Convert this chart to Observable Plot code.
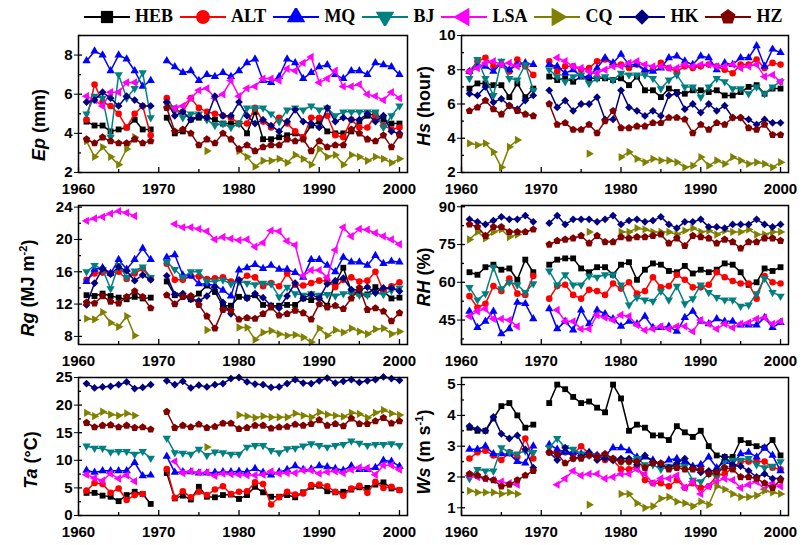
<!DOCTYPE html>
<html>
<head>
<meta charset="utf-8">
<script src="https://cdn.jsdelivr.net/npm/d3@7"></script>
<script src="https://cdn.jsdelivr.net/npm/@observablehq/plot@0.6"></script>
<style>
  body { margin: 0; background: #fff; }
  #chart { position: relative; width: 804px; height: 545px; overflow: hidden; font-family: "Liberation Sans", Arial, sans-serif; }
  .panel { position: absolute; }
  .ylab { position: absolute; transform: translate(-50%, -50%) rotate(-90deg); white-space: nowrap; font-weight: bold; font-size: 18px; }
  .ylab sup { font-size: 11px; }
  #legend { position: absolute; left: 84px; top: 6px; display: flex; align-items: center;
            font-family: "Liberation Serif", "Times New Roman", serif; font-weight: bold; font-size: 18px; }
</style>
</head>
<body>
<div id="chart"><div id="legend"></div></div>
<script>
// stations in legend order, with their colours
const stations = ["HEB", "ALT", "MQ", "BJ", "LSA", "CQ", "HK", "HZ"];
const colors = ["#000000", "#ff0000", "#0000ff", "#008080", "#ff00ff", "#808000", "#000080", "#800000"];

const years = [1961, 1962, 1963, 1964, 1965, 1966, 1967, 1968, 1969, 1970,
               1971, 1972, 1973, 1974, 1975, 1976, 1977, 1978, 1979, 1980,
               1981, 1982, 1983, 1984, 1985, 1986, 1987, 1988, 1989, 1990,
               1991, 1992, 1993, 1994, 1995, 1996, 1997, 1998, 1999, 2000];
const _ = null; // no record

// Ep (mm), one row per station
const ep = [
  [4.6,4.4,4.4,4.1,4.2,4.3,4.7,4.2,4.2,_, 4.8,4.0,4.1,4.7,4.8,4.8,4.7,4.5,4.5,4.5, 4.0,5.1,3.7,3.7,3.8,3.9,4.0,3.8,4.4,4.6, 4.1,4.0,4.0,4.1,4.6,4.9,5.0,4.7,4.5,4.5],
  [4.7,6.5,5.6,5.4,5.0,4.3,5.0,5.4,3.9,_, 5.8,5.2,5.1,5.8,5.3,5.1,5.0,4.9,4.8,4.5, 4.5,5.3,4.6,4.3,4.8,4.5,4.1,3.8,4.8,4.8, 4.9,3.9,3.8,4.7,4.3,4.3,4.9,4.4,4.2,4.3],
  [7.7,8.2,8.0,7.2,8.0,7.8,7.2,6.4,6.7,_, 7.7,7.4,7.1,7.2,6.7,7.0,6.9,7.1,6.9,7.2, 7.6,7.8,6.7,6.6,6.9,7.8,7.6,6.8,7.1,7.4, 7.5,7.0,6.8,7.2,7.2,7.0,7.6,7.5,7.4,7.0],
  [5.0,5.9,5.8,3.8,7.0,5.8,6.3,7.1,4.8,_, 5.5,5.3,4.8,5.0,5.0,4.7,4.4,4.5,4.3,4.5, 5.3,5.3,5.3,5.0,4.6,5.2,5.3,5.2,5.4,5.2, 5.3,4.9,5.1,5.1,5.1,5.1,5.1,4.3,4.9,5.4],
  [5.9,5.7,5.4,6.1,6.1,6.6,6.6,_,_,_, _,5.3,5.4,5.8,6.2,6.3,5.8,6.0,6.7,5.9, 6.3,6.4,6.8,6.8,6.7,7.3,7.2,7.6,7.9,6.6, 6.8,7.2,6.4,6.4,6.5,6.0,5.9,5.7,6.1,5.8],
  [3.6,2.8,3.3,2.8,2.4,3.2,3.8,_,_,_, _,_,_,_,_,3.1,_,_,_,3.1, 2.8,2.3,2.6,2.6,2.7,2.5,2.9,2.7,2.4,3.2, 2.8,2.9,2.4,2.9,2.8,2.6,2.8,2.7,2.5,2.7],
  [5.6,5.7,6.1,5.8,5.4,5.9,5.7,5.4,5.4,_, 5.6,4.9,5.1,4.7,4.9,4.8,5.9,4.9,4.9,5.6, 4.9,4.5,4.7,4.4,4.1,4.6,5.2,4.6,4.5,4.3, 5.3,4.6,4.8,4.7,4.7,5.0,4.6,4.9,4.1,4.0],
  [3.7,3.5,3.8,3.6,3.5,3.5,3.7,3.5,3.6,_, 5.3,4.1,4.2,4.0,3.4,3.7,3.5,4.0,3.7,3.2, 3.4,3.1,3.3,3.4,3.4,3.7,3.6,3.7,3.1,3.6, 3.3,3.4,3.4,4.2,4.0,3.7,3.6,3.9,3.3,3.9]
];

// Hs (hour)
const hs = [
  [6.9,7.2,7.2,7.1,7.1,6.4,7.2,6.4,6.9,_, 7.6,7.4,7.5,7.3,7.6,7.5,7.5,7.5,7.4,7.5, 7.1,7.6,6.8,6.8,6.4,6.9,6.7,6.6,6.8,6.8, 6.7,6.8,6.5,6.5,6.7,7.0,7.1,6.6,6.9,6.9],
  [7.9,8.5,8.7,8.2,8.3,7.9,8.6,8.2,7.7,_, 8.5,7.9,8.2,8.2,8.0,8.1,8.5,8.6,8.3,8.3, 8.1,8.3,7.9,8.0,8.4,8.1,7.9,8.2,8.1,8.2, 8.3,8.2,8.0,7.8,8.3,8.3,8.6,8.1,8.4,8.3],
  [7.9,8.3,8.2,7.9,8.4,8.0,8.3,8.4,8.3,_, 8.3,8.2,7.8,8.0,7.6,7.6,8.1,8.7,8.4,8.9, 8.3,8.3,8.0,7.9,8.1,8.7,8.8,8.5,8.3,8.8, 8.7,8.0,8.4,8.3,8.7,8.7,9.4,8.2,9.2,9.0],
  [7.5,8.6,7.5,6.5,8.5,7.5,7.4,8.3,6.8,_, 8.0,7.6,7.3,7.6,7.7,7.2,7.5,7.6,7.4,7.8, 7.7,7.7,7.7,7.5,6.9,7.4,7.7,7.0,7.0,6.4, 7.0,7.5,7.3,6.9,6.9,6.6,7.0,6.6,7.0,7.3],
  [7.9,8.1,8.4,8.5,8.3,8.4,8.2,_,_,_, _,8.7,8.5,8.2,8.1,7.9,7.8,8.0,8.2,8.2, 8.4,8.5,8.3,8.2,8.2,8.1,8.1,8.3,8.2,8.3, 8.3,8.2,8.2,8.3,8.1,8.2,8.3,7.6,7.7,7.3],
  [3.7,3.6,3.7,3.2,2.3,3.5,3.9,_,_,_, _,_,_,_,_,3.1,_,_,_,2.9, 3.2,2.8,2.6,2.8,2.7,2.7,2.6,2.3,2.4,2.9, 2.4,2.7,2.5,2.9,2.7,2.5,2.6,2.5,2.3,2.6],
  [6.6,6.5,7.0,6.1,6.3,5.9,5.7,6.2,6.5,_, 6.8,5.8,6.2,5.6,6.0,6.0,6.4,5.1,5.1,6.8, 5.8,5.6,5.3,5.6,5.3,6.5,6.6,5.7,6.0,5.5, 6.0,5.6,5.9,5.2,5.2,5.1,4.8,5.1,4.9,4.9],
  [5.6,5.8,6.2,5.7,5.4,5.9,5.6,5.4,5.3,_, 6.0,4.8,4.9,4.5,4.5,4.8,4.3,5.0,5.6,4.6, 4.6,4.7,4.7,4.9,4.9,5.2,5.2,5.1,4.3,4.8, 4.5,4.9,4.8,5.2,5.2,4.6,4.5,4.8,4.2,4.2]
];

// Rg (MJ m-2)
const rg = [
  [13.1,13.0,13.3,13.0,12.8,12.6,12.9,12.7,12.8,_, 14.8,13.1,13.0,12.6,13.3,14.3,13.5,11.8,11.8,12.9, 12.8,13.1,11.9,11.8,11.8,11.9,11.9,12.7,12.5,12.8, 11.8,14.6,16.5,13.6,13.3,13.2,14.1,13.6,12.7,12.8],
  [15.0,15.8,15.9,15.8,16.0,15.1,15.8,16.4,15.1,_, 17.0,15.0,15.0,15.5,15.4,15.1,15.2,15.3,14.8,14.9, 15.5,15.3,14.2,14.6,14.2,15.8,14.4,14.3,14.6,14.9, 14.9,14.1,15.0,15.3,14.8,14.9,16.0,13.6,14.2,14.7],
  [14.8,16.3,16.5,15.8,17.5,16.3,17.5,18.9,17.5,_, 17.8,18.1,15.6,15.5,14.5,14.5,14.3,13.7,13.0,16.2, 16.5,16.9,16.4,16.8,16.3,16.3,15.9,15.3,17.5,17.5, 16.8,16.0,17.8,17.2,17.2,16.8,18.0,17.0,17.3,17.2],
  [16.0,16.8,16.3,13.9,16.8,15.3,16.1,16.6,15.3,_, 17.2,16.3,15.3,16.0,16.0,14.8,14.8,15.0,14.5,14.8, 14.6,14.4,14.6,14.5,12.9,14.1,13.3,13.1,13.3,13.1, 13.2,13.0,13.3,13.3,13.1,13.1,13.4,13.2,13.7,14.0],
  [22.3,22.6,22.8,23.2,23.5,23.3,22.9,_,_,_, _,21.9,21.5,21.5,21.3,21.0,20.0,20.3,20.1,19.9, 20.0,19.1,19.6,21.1,21.0,19.8,19.3,15.5,16.2,16.2, 15.3,18.7,21.5,20.4,21.3,21.2,20.8,20.4,20.0,19.4],
  [10.2,10.1,11.0,9.7,9.2,10.5,8.1,_,_,_, _,_,_,_,_,8.8,_,_,_,9.1, 9.1,7.6,8.5,8.7,8.3,8.1,8.2,7.9,7.3,9.0, 8.1,8.8,8.5,9.0,8.6,8.3,8.9,9.0,8.3,8.6],
  [11.9,14.6,16.4,15.7,16.6,16.1,14.9,15.6,15.0,_, 15.5,13.2,13.3,12.6,12.4,13.0,14.1,12.2,10.8,15.0, 12.7,13.3,12.8,11.8,11.5,13.0,14.6,12.7,13.2,12.7, 14.5,14.9,15.2,13.8,13.7,14.1,13.4,14.0,14.0,13.6],
  [12.2,12.1,13.0,12.3,12.1,12.9,13.6,12.9,11.5,_, 13.1,12.0,12.9,13.0,11.9,10.5,9.0,11.3,11.2,10.1, 10.3,10.2,10.8,11.6,10.6,10.8,11.2,10.9,10.1,12.0, 11.6,11.8,11.4,12.7,14.0,11.3,11.5,11.1,9.9,10.9]
];

// RH (%)
const rh = [
  [64,63,66,67,65,65.5,61,69,64,_, 67,69,69.5,69.5,65.5,64,66,66,63,67, 68,61,65,67.5,67,64.5,64,66.5,63.5,65, 64,65,67.5,67,64,59,60,65.5,64.5,66],
  [54.5,50,51.5,58.5,56.5,61.5,55.5,55,62.5,_, 53.5,58.5,59,55,53.5,57,56.5,55,59.5,57.5, 60,55.5,56.5,62,58,58.5,63,61,58,58, 59,64,62,60.5,59.5,59.5,53.5,62.5,60,59.5],
  [48.5,42,44.5,48.5,39.5,41.5,52,51.5,45.5,_, 49.5,41.5,44.5,41,49,43.5,49,47.5,45.5,42.5, 44.5,43.5,46.5,42,42,42.5,40.5,46,48.5,44.5, 43.5,45.5,44.5,44.5,43,43,43,46,42,44],
  [58,53,55.5,66,57.5,60,59,56,59.5,_, 64.5,59,63,59,59,62.5,62,63,63,59, 51,54,53,52.5,56.5,53,58.5,51.5,53.5,59, 56,54,53,53,50.5,51,55.5,61.5,56,54.5],
  [46.5,48.5,49.5,45.5,45.5,45,42.5,_,_,_, _,49,44.5,44.5,41.5,41.5,47,46,45,47, 46.5,43,41,41.5,42.5,41.5,42.5,42.5,40.5,45, 43.5,41.5,43.5,42,43.5,44,45.5,46,43.5,44.5],
  [77,80,77.5,80,81,78,79,_,_,_, _,_,_,_,_,80,_,_,_,80, 80,81.5,81,80,80,80,79,80.5,81.5,80, 80.5,79,80.5,80,80,81,79,79,80,80],
  [85,84,83,84.5,86,85,85,86.5,84,_, 83.5,86.5,83,85,85,85,84,85,86.5,83, 84.5,85,84,84.5,86,83,81.5,84,84,85, 82,82,81.5,83,83,83,85,83,82,83],
  [83,82,78.5,82,82,80,80,80,81,_, 75,76.5,77,77.5,78.5,75.5,78.5,76,76,78, 77.5,78,78,78.5,79,75.5,77.5,74.5,78.5,78, 77.5,75.5,77,76,73.5,76,76,77.5,77.5,76.5]
];

// Ta (°C)
const ta = [
  [4.1,4.1,3.6,3.4,2.6,3.7,4.3,3.9,2.1,_, 7.7,3.1,3.6,2.9,5.2,3.4,3.3,3.7,3.8,3.0, 3.7,5.2,4.2,3.4,3.4,3.7,3.3,4.2,5.2,5.4, 4.4,4.2,4.3,4.7,5.1,5.0,5.6,6.0,4.9,4.6],
  [4.5,5.9,5.7,4.1,4.9,2.8,3.7,3.9,_,_, 8.4,3.2,4.4,3.3,4.3,3.7,4.7,5.3,3.9,4.3, 4.4,6.0,5.7,2.0,3.3,4.3,3.8,4.0,5.5,5.6, 5.3,4.3,3.6,4.9,5.4,4.1,6.1,5.0,5.2,4.6],
  [8.2,7.8,8.1,8.1,8.1,8.1,9.6,7.2,7.3,_, 10.7,7.8,7.9,7.9,7.7,7.7,7.8,7.9,7.9,8.0, 7.9,8.5,7.8,7.3,7.9,8.3,9.0,8.3,8.4,9.0, 8.8,8.5,8.2,9.0,8.3,8.3,8.7,10.0,9.8,8.9],
  [12.6,12.2,12.2,11.5,11.6,11.6,11.1,11.6,10.4,_, 14.0,11.4,11.3,11.1,12.0,10.9,11.5,11.4,11.1,11.1, 12.4,12.7,12.7,11.8,11.4,12.1,12.2,12.6,13.0,12.7, 12.4,12.7,12.9,13.5,13.1,12.7,12.9,12.9,13.0,12.7],
  [7.4,6.8,6.3,7.6,6.7,7.3,6.2,_,_,_, _,9.8,7.7,8.0,7.8,7.8,7.2,7.6,7.5,7.4, 7.3,7.3,7.4,8.0,7.6,7.7,7.7,8.2,8.2,7.6, 7.9,8.0,7.7,8.3,8.7,8.6,7.4,9.1,9.1,8.3],
  [18.6,18.0,18.8,18.3,18.1,18.5,18.1,_,_,_, _,_,_,_,_,12.4,_,_,_,18.2, 18.0,17.7,18.0,17.8,17.8,17.8,18.5,18.1,17.8,18.7, 18.3,18.1,17.9,18.6,18.4,17.7,18.6,19.1,18.5,18.2],
  [23.9,23.1,23.3,23.4,23.7,24.2,23.0,23.2,23.7,_, 24.4,23.7,24.3,23.1,23.6,23.3,23.7,23.9,24.8,25.0, 24.2,23.8,23.7,23.2,23.3,23.9,24.6,24.0,23.9,24.4, 24.9,24.0,24.3,24.6,24.1,24.4,24.6,25.1,24.8,24.5],
  [16.8,16.0,16.3,16.4,16.0,16.3,15.9,16.0,15.6,_, 18.8,15.9,16.3,16.0,16.5,15.9,16.1,16.7,16.7,15.7, 15.9,16.3,16.3,15.8,16.0,16.1,16.5,16.3,16.6,17.3, 16.3,16.6,16.2,17.6,16.6,16.6,17.1,17.7,16.7,17.1]
];

// Ws (m s-1)
const ws = [
  [3.6,3.5,3.5,3.9,4.3,4.4,4.0,3.6,3.7,_, 4.4,5.0,4.85,4.6,4.4,4.45,4.25,4.1,5.0,4.55, 3.5,3.7,3.6,3.35,3.35,3.2,3.65,3.45,3.3,3.5, 3.0,2.7,2.65,2.65,3.2,3.1,3.0,2.95,3.2,2.7],
  [2.6,2.8,2.85,2.7,2.55,2.8,2.65,3.25,2.6,_, 2.8,2.75,2.8,2.75,3.0,2.75,2.7,2.55,2.55,2.25, 2.25,2.35,1.9,1.8,1.8,1.7,1.9,1.65,1.8,1.65, 1.7,2.05,2.1,2.3,2.5,2.5,2.5,2.5,2.3,2.25],
  [2.9,2.9,3.0,2.75,2.75,2.75,2.5,2.45,3.0,_, 3.05,2.9,2.8,2.8,2.75,2.8,2.7,2.7,2.95,2.95, 2.85,2.65,2.65,2.55,2.4,2.55,2.6,2.5,2.35,2.4, 2.65,2.3,2.5,2.4,2.75,2.8,2.65,2.95,2.7,2.2],
  [1.95,2.25,2.2,2.2,2.95,2.8,2.75,2.85,2.8,_, 2.95,3.25,2.95,2.9,2.75,2.7,2.65,2.7,2.55,2.5, 2.5,2.6,2.4,2.4,2.25,2.35,2.35,2.35,1.9,1.85, 2.1,2.05,2.5,2.55,2.55,2.6,2.4,2.3,2.35,2.5],
  [2.05,2.0,1.95,1.9,1.85,1.8,1.75,_,_,_, _,1.75,1.95,2.2,2.05,2.1,2.1,1.95,2.0,2.1, 2.1,2.25,2.1,1.8,1.95,1.95,2.05,1.65,1.85,1.45, 1.7,1.85,1.95,1.9,1.65,1.75,1.85,1.6,1.8,1.7],
  [1.55,1.5,1.5,1.5,1.45,1.5,1.45,_,_,_, _,_,_,_,_,1.1,_,_,_,1.45, 1.45,1.15,1.0,1.05,1.3,1.35,1.2,1.15,1.05,1.2, 1.1,1.7,1.6,1.45,1.35,1.35,1.4,1.55,1.5,1.45],
  [3.65,3.55,3.5,3.95,3.4,3.25,3.35,2.9,2.3,_, 2.8,2.55,2.95,2.6,2.65,2.8,2.55,2.6,2.55,2.6, 2.6,2.4,2.7,2.5,2.4,2.3,2.45,2.6,2.3,2.15, 2.2,2.2,2.65,2.4,2.35,2.2,2.0,2.1,1.95,1.95],
  [2.1,2.05,1.95,1.9,1.7,1.75,1.9,2.05,2.2,_, 2.8,2.75,2.45,2.6,2.6,2.7,2.65,2.75,2.6,2.5, 2.5,2.5,2.3,2.45,2.45,2.25,2.3,2.25,2.25,2.25, 2.1,2.15,2.3,2.25,2.0,2.0,1.95,1.8,1.65,1.9]
];

// marker shapes: d3 has no down/left/right triangle or pentagon, so build them
const polygon = (pts) => ({
  draw(ctx, size) {
    const k = Math.sqrt(size);
    pts.forEach(([x, y], i) => (i ? ctx.lineTo(x * k, y * k) : ctx.moveTo(x * k, y * k)));
    ctx.closePath();
  }
});
const ts = Math.sqrt(4 / Math.sqrt(3)), th = ts * Math.sqrt(3) / 2; // unit-area triangle
const triUp = polygon([[0, -2 * th / 3], [ts / 2, th / 3], [-ts / 2, th / 3]]);
const triDown = polygon([[0, 2 * th / 3], [ts / 2, -th / 3], [-ts / 2, -th / 3]]);
const triLeft = polygon([[-2 * th / 3, 0], [th / 3, ts / 2], [th / 3, -ts / 2]]);
const triRight = polygon([[2 * th / 3, 0], [-th / 3, ts / 2], [-th / 3, -ts / 2]]);
const pr = Math.sqrt(2 / (5 * Math.sin(2 * Math.PI / 5)));
const pentagon = polygon(d3.range(5).map(i => {
  const a = -Math.PI / 2 + i * 2 * Math.PI / 5;
  return [pr * Math.cos(a), pr * Math.sin(a)];
}));
const symbols = [d3.symbolSquare, d3.symbolCircle, triUp, triDown, triLeft, triRight, d3.symbolDiamond2, pentagon];
const radii = [3.3, 3.3, 3.1, 3.1, 3.1, 3.1, 3.5, 3.4]; // triangles read a little smaller

// legend
const legend = d3.select("#legend");
stations.forEach((s, i) => {
  const item = legend.append("div").style("display", "flex").style("align-items", "center").style("margin-right", "7px");
  const sw = item.append("svg").attr("width", 46).attr("height", 18);
  sw.append("line").attr("x1", 0).attr("x2", 46).attr("y1", 9).attr("y2", 9)
    .attr("stroke", colors[i]).attr("stroke-width", 2);
  sw.append("path").attr("transform", "translate(23,9)").attr("d", d3.symbol(symbols[i], 150)()).attr("fill", colors[i]);
  item.append("span").style("margin-left", "5px").text(s);
});

// panel layout: columns and rows of the 2x3 grid
const cols = [
  {left: 0, width: 410, marginLeft: 78, marginRight: 3},
  {left: 412, width: 392, marginLeft: 49, marginRight: 16}
];
const rows = [
  {top: 22, height: 173, marginTop: 13, marginBottom: 23},
  {top: 195, height: 170, marginTop: 10, marginBottom: 21},
  {top: 365, height: 180, marginTop: 12, marginBottom: 30}
];

const panels = [
  {values: ep, col: 0, row: 0, domain: [2, 9], ticks: [2, 4, 6, 8], minor: [3, 5, 7, 9], label: "<i>Ep</i> (mm)", lx: 39, ly: 125},
  {values: hs, col: 1, row: 0, domain: [2, 10], ticks: [2, 4, 6, 8, 10], minor: [3, 5, 7, 9], label: "<i>Hs</i> (hour)", lx: 424, ly: 106},
  {values: rg, col: 0, row: 1, domain: [7, 24.2], ticks: [8, 12, 16, 20, 24], minor: [10, 14, 18, 22], label: "<i>Rg</i> (MJ m<sup>-2</sup>)", lx: 28, ly: 288},
  {values: rh, col: 1, row: 1, domain: [35.3, 90.5], ticks: [45, 60, 75, 90], minor: [37.5, 52.5, 67.5, 82.5], label: "<i>RH</i> (%)", lx: 424, ly: 277},
  {values: ta, col: 0, row: 2, domain: [0, 25], ticks: [0, 5, 10, 15, 20, 25], minor: [2.5, 7.5, 12.5, 17.5, 22.5], label: "<i>Ta</i> (°C)", lx: 31, ly: 460},
  {values: ws, col: 1, row: 2, domain: [0.75, 5.23], ticks: [1, 2, 3, 4, 5], minor: [1.5, 2.5, 3.5, 4.5], label: "<i>Ws</i> (m s<sup>-1</sup>)", lx: 424, ly: 452}
];

const majorYears = [1960, 1970, 1980, 1990, 2000];
const minorYears = [1965, 1975, 1985, 1995];

panels.forEach((p) => {
  const c = cols[p.col], r = rows[p.row];
  const [y0, y1] = p.domain;
  const yPerPx = (y1 - y0) / (r.height - r.marginTop - r.marginBottom);
  const xPerPx = 41 / (c.width - c.marginLeft - c.marginRight);

  const marks = [];
  stations.forEach((s, i) => {
    const series = years.map((year, j) => ({year, value: p.values[i][j]}));
    marks.push(Plot.line(series, {x: "year", y: "value", stroke: colors[i], strokeWidth: 1.5}));
    marks.push(Plot.dot(series, {x: "year", y: "value", fill: colors[i], r: radii[i], symbol: symbols[i]}));
  });

  const chart = Plot.plot({
    width: c.width,
    height: r.height,
    marginLeft: c.marginLeft,
    marginRight: c.marginRight,
    marginTop: r.marginTop,
    marginBottom: r.marginBottom,
    x: {domain: [1960, 2001]},
    y: {domain: p.domain},
    marks: [
      Plot.axisX({ticks: majorYears, tickFormat: "d", tickSize: 0, tickPadding: 11, label: null}),
      Plot.axisY({ticks: p.ticks, tickFormat: (d) => String(d), tickSize: 4, tickPadding: 2, label: null}),
      // inward ticks along the bottom and left edges, as in the original
      Plot.ruleX(majorYears, {y1: y0, y2: y0 + 5 * yPerPx, strokeWidth: 1.3}),
      Plot.ruleX(minorYears, {y1: y0, y2: y0 + 3 * yPerPx, strokeWidth: 1.3}),
      Plot.ruleY(p.ticks, {x1: 1960, x2: 1960 + 4 * xPerPx, strokeWidth: 1.3}),
      Plot.ruleY(p.minor, {x1: 1960, x2: 1960 + 3 * xPerPx, strokeWidth: 1.3}),
      ...marks,
      Plot.frame({stroke: "black", strokeWidth: 1.5})
    ],
    style: {
      fontFamily: '"Liberation Sans", Arial, sans-serif',
      fontSize: "15px",
      fontWeight: "bold",
      background: "transparent",
      overflow: "visible"
    }
  });

  const holder = d3.select("#chart").append("div").attr("class", "panel")
    .style("left", c.left + "px").style("top", r.top + "px").style("width", c.width + "px");
  holder.node().append(chart);

  d3.select("#chart").append("div").attr("class", "ylab")
    .style("left", p.lx + "px").style("top", p.ly + "px").html(p.label);
});
</script>
</body>
</html>
